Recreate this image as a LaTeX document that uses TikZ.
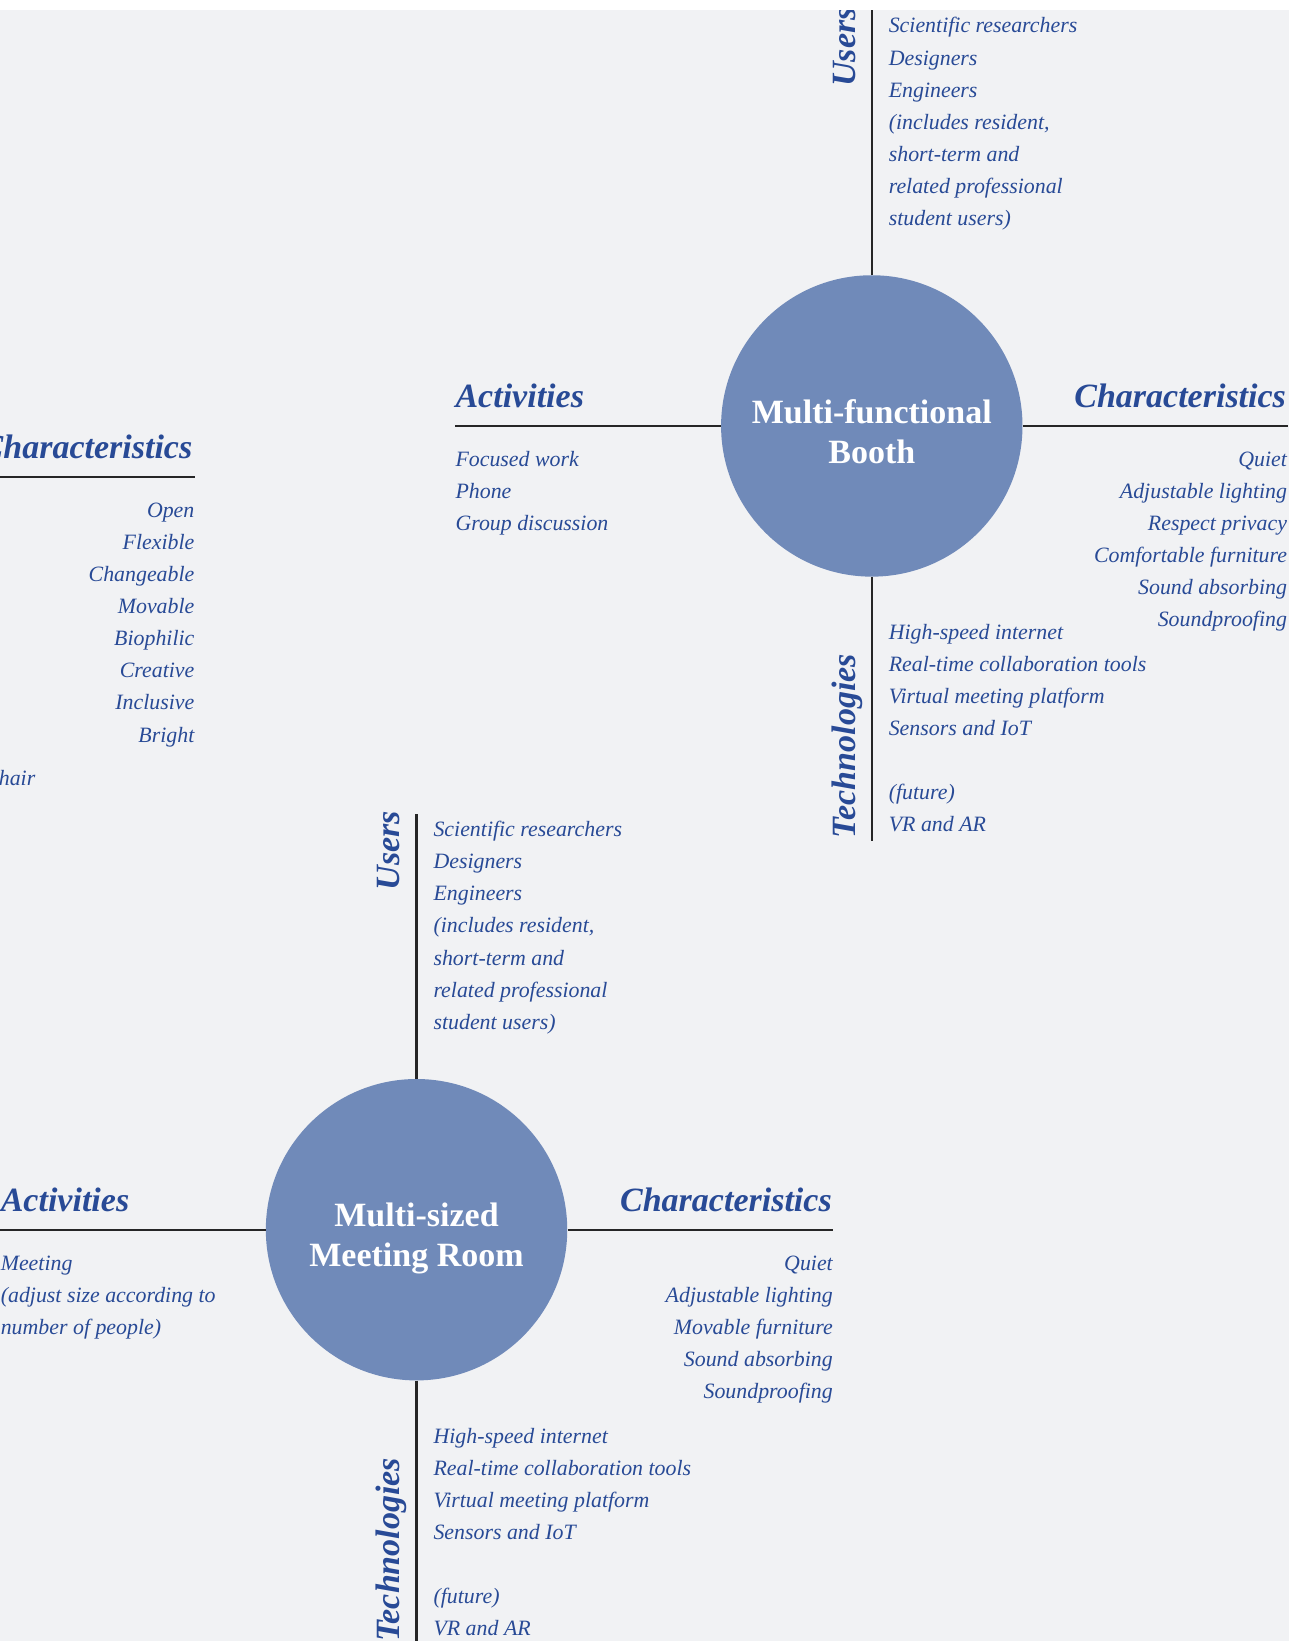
\documentclass[tikz,border=0pt]{standalone}
\usepackage{fontspec}
\setmainfont{Liberation Serif}
\usetikzlibrary{calc}
\definecolor{paper}{HTML}{F1F2F4}
\definecolor{ink}{HTML}{284A96}
\definecolor{hubfill}{HTML}{708AB9}
\definecolor{rulecol}{HTML}{262626}

\begin{document}
\begin{tikzpicture}[
  x=0.78475pt, y=-0.78475pt,
  hub/.style={circle, fill=hubfill, draw=none, minimum size=226pt, inner sep=0pt},
  hubtext/.style={text=white, font=\bfseries\fontsize{25.5}{30}\selectfont, inner sep=0pt, anchor=base},
  head/.style={text=ink, font=\bfseries\itshape\fontsize{25.5}{30}\selectfont, inner sep=0pt},
  vhead/.style={head, rotate=90, anchor=base west},
  item/.style={text=ink, font=\itshape\fontsize{16.4}{24}\selectfont, inner sep=0pt},
  rule/.style={draw=rulecol, line width=1.8pt},
]
\useasboundingbox (0,0) rectangle (1232,1568);
\fill[white] (0,0) rectangle (1232,1568);
\fill[paper] (0,9.6) rectangle (1232,1568);

\begin{scope}
\clip (0,9.6) rectangle (1232,1568);

% ---------------- Multi-functional Booth ----------------
\node[hub] (booth) at (833,407) {};
\node[hubtext] (booth-l1) at (833,404.4) {Multi-functional};
\node[hubtext] (booth-l2) at (833,442.6) {Booth};
\coordinate (booth-n) at (833,10);
\coordinate (booth-s) at (833,804);
\coordinate (booth-w) at (435,407);
\coordinate (booth-e) at (1231,407);
\draw[rule] (booth.north) -- (booth-n);
\draw[rule] (booth.south) -- (booth-s);
\draw[rule] (booth.west) -- (booth-w);
\draw[rule] (booth.east) -- (booth-e);

\node[vhead] (booth-users) at (817,83) {Users};
\foreach \t [count=\i] in {Scientific researchers, Designers, Engineers,
    {(includes resident,}, short-term and, related professional, {student users)}}
  \node[item, anchor=base west] (bu\i) at (849,{31.5+30.65*(\i-1)}) {\t};

\node[head, anchor=base west] (booth-act) at (435,389.5) {Activities};
\foreach \t [count=\i] in {Focused work, Phone, Group discussion}
  \node[item, anchor=base west] (ba\i) at (435,{445.5+30.65*(\i-1)}) {\t};

\node[head, anchor=base east] (booth-char) at (1229,389.5) {Characteristics};
\foreach \t [count=\i] in {Quiet, Adjustable lighting, Respect privacy,
    Comfortable furniture, Sound absorbing, Soundproofing}
  \node[item, anchor=base east] (bc\i) at (1230,{445.5+30.65*(\i-1)}) {\t};

\node[vhead] (booth-tech) at (817,801) {Technologies};
\foreach \j/\t in {1/High-speed internet, 2/Real-time collaboration tools,
    3/Virtual meeting platform, 4/Sensors and IoT, 6/{(future)}, 7/VR and AR}
  \node[item, anchor=base west] (bt\j) at (849,{611+30.65*(\j-1)}) {\t};

% ---------------- Multi-sized Meeting Room ----------------
\node[hub] (room) at (398,1175) {};
\node[hubtext] (room-l1) at (398,1172.4) {Multi-sized};
\node[hubtext] (room-l2) at (398,1210.6) {Meeting Room};
\coordinate (room-n) at (398,778);
\coordinate (room-s) at (398,1572);
\coordinate (room-w) at (0,1175);
\coordinate (room-e) at (796,1175);
\draw[rule] (room.north) -- (room-n);
\draw[rule] (room.south) -- (room-s);
\draw[rule] (room.west) -- (room-w);
\draw[rule] (room.east) -- (room-e);

\node[vhead] (room-users) at (382,851) {Users};
\foreach \t [count=\i] in {Scientific researchers, Designers, Engineers,
    {(includes resident,}, short-term and, related professional, {student users)}}
  \node[item, anchor=base west] (ru\i) at (414,{799.5+30.65*(\i-1)}) {\t};

\node[head, anchor=base west] (room-act) at (0.5,1157.5) {Activities};
\foreach \t [count=\i] in {Meeting, {(adjust size according to}, {number of people)}}
  \node[item, anchor=base west] (ra\i) at (0.5,{1213.5+30.65*(\i-1)}) {\t};

\node[head, anchor=base east] (room-char) at (795,1157.5) {Characteristics};
\foreach \t [count=\i] in {Quiet, Adjustable lighting, Movable furniture,
    Sound absorbing, Soundproofing}
  \node[item, anchor=base east] (rc\i) at (796,{1213.5+30.65*(\i-1)}) {\t};

\node[vhead] (room-tech) at (382,1569) {Technologies};
\foreach \j/\t in {1/High-speed internet, 2/Real-time collaboration tools,
    3/Virtual meeting platform, 4/Sensors and IoT, 6/{(future)}, 7/VR and AR}
  \node[item, anchor=base west] (rt\j) at (414,{1379+30.65*(\j-1)}) {\t};

% ---------------- neighbouring hub, mostly off the sheet ----------------
\coordinate (open-e) at (-68,456);
\coordinate (open-arm) at (186,456);
\draw[rule] (open-e) -- (open-arm);
\node[head, anchor=base east] (open-char) at (184,438.5) {Characteristics};
\foreach \t [count=\i] in {Open, Flexible, Changeable, Movable, Biophilic,
    Creative, Inclusive, Bright}
  \node[item, anchor=base east] (oc\i) at (186,{494.5+30.65*(\i-1)}) {\t};
\node[item, anchor=base east] (ot4) at (34,751) {hair};

\end{scope}
\end{tikzpicture}
\end{document}
